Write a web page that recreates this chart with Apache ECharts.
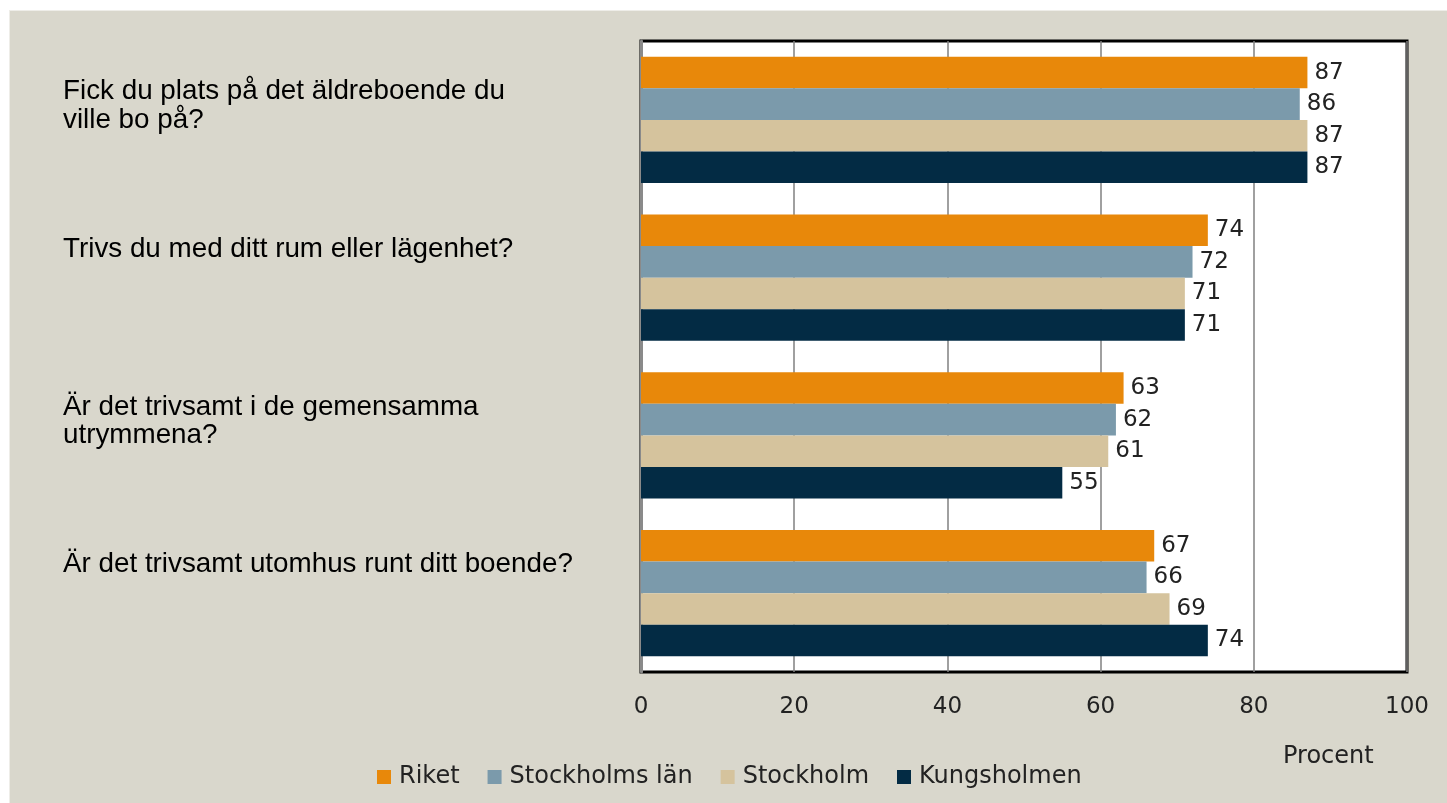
<!DOCTYPE html>
<html>
<head>
<meta charset="utf-8">
<script src="https://cdn.jsdelivr.net/npm/echarts@6/dist/echarts.min.js"></script>
<style>
  html, body { margin: 0; padding: 0; background: #ffffff; }
  #chart { position: absolute; left: 9px; top: 10px; width: 1438px; height: 793px;
           background: #d9d7cc; border-top: 1px solid #eeede8; border-left: 1px solid #eeede8; box-sizing: border-box; }
</style>
</head>
<body>
<div id="chart"></div>
<script>
// frågor (uppifrån och ned)
const questions = [
  'Fick du plats på det äldreboende du\nville bo på?',
  'Trivs du med ditt rum eller lägenhet?',
  'Är det trivsamt i de gemensamma\nutrymmena?',
  'Är det trivsamt utomhus runt ditt boende?'
]
const seriesNames = ['Riket', 'Stockholms län', 'Stockholm', 'Kungsholmen']
const riket = [87, 74, 63, 67]
const stockholmsLan = [86, 72, 62, 66]
const stockholm = [87, 71, 61, 69]
const kungsholmen = [87, 71, 55, 74]
const xTicks = [0, 20, 40, 60, 80, 100]

const colors = ['#e8880a', '#7b9aab', '#d5c39d', '#032b44']
const pixelFont = '"DejaVu Sans", sans-serif'

const chart = echarts.init(document.getElementById('chart'))

const makeSeries = (name, data, i) => ({
  name: name,
  type: 'bar',
  data: data,
  barGap: '0%',
  barCategoryGap: '20%',
  itemStyle: { color: colors[i] },
  label: {
    show: true,
    position: 'right',
    distance: 7,
    color: '#222',
    fontFamily: pixelFont,
    fontSize: 23
  }
})

const option = {
  animation: false,
  textStyle: { fontFamily: pixelFont },
  grid: {
    left: 631, right: 40, top: 30, bottom: 131,
    show: true,
    backgroundColor: '#ffffff',
    borderColor: '#000',
    borderWidth: 3
  },
  title: {
    text: 'Procent',
    left: 1268, top: 729,
    textStyle: { fontFamily: pixelFont, fontSize: 24, fontWeight: 'normal', color: '#222' }
  },
  legend: {
    data: seriesNames,
    left: 362, top: 749,
    icon: 'rect',
    itemWidth: 14, itemHeight: 14,
    itemGap: 28,
    textStyle: { fontFamily: pixelFont, fontSize: 24, color: '#222', padding: [0, 0, 0, 3] }
  },
  xAxis: {
    type: 'value',
    min: 0, max: 100, interval: 20,
    axisLine: { show: false },
    axisTick: { show: false },
    splitLine: { lineStyle: { color: '#808080', width: 1.5 } },
    axisLabel: {
      margin: 24,
      color: '#222',
      fontFamily: pixelFont,
      fontSize: 23,
      formatter: v => xTicks.includes(v) ? String(v) : ''
    }
  },
  yAxis: {
    type: 'category',
    data: questions,
    inverse: true,
    axisTick: { show: false },
    axisLine: { show: true, lineStyle: { color: '#8a8a8a', width: 3 } },
    axisLabel: {
      margin: 578,
      align: 'left',
      verticalAlign: 'middle',
      lineHeight: 28.5,
      color: '#000',
      fontFamily: '"Liberation Sans", Arial, sans-serif',
      fontSize: 27.8,
      // lägg till tomma rader så att texten hamnar ovanför gruppens mitt
      formatter: v => v.split('\n').length === 1 ? v + '\n \n ' : v + '\n '
    }
  },
  series: [
    makeSeries(seriesNames[0], riket, 0),
    makeSeries(seriesNames[1], stockholmsLan, 1),
    makeSeries(seriesNames[2], stockholm, 2),
    makeSeries(seriesNames[3], kungsholmen, 3)
  ]
}

chart.setOption(option)
</script>
</body>
</html>
